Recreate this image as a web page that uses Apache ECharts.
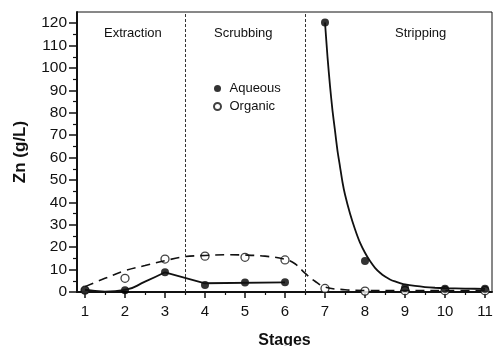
<!DOCTYPE html>
<html>
<head>
<meta charset="utf-8">
<script src="https://cdn.jsdelivr.net/npm/echarts@6/dist/echarts.min.js"></script>
<style>
  html, body { margin: 0; padding: 0; background: #fff; }
  #chart { width: 493px; height: 346px; }
</style>
</head>
<body>
<div id="chart"></div>
<script>
// Stage numbers and measured Zn concentrations (g/L)
const stages = [1, 2, 3, 4, 5, 6, 7, 8, 9, 10, 11];
const aqueous = [0.8, 0.8, 8.8, 3.1, 4.2, 4.3, 120.3, 13.8, 1.8, 1.5, 1.4];
const organic = [0.8, 6.1, 14.7, 16.0, 15.5, 14.3, 1.6, 0.4, 0.6, 0.6, 0.6];

// Trend curves drawn through the aqueous data: extraction, scrubbing, stripping
const aqTrendExtraction = [[1, 1.0], [1.5, 0.2], [2, 0.9], [2.5, 4.6], [3, 8.8]];
const aqTrendScrubbing = [[3, 8.8], [4, 3.9], [6, 4.3]];
const aqTrendStripping = [
  [7, 120.3], [7.0625, 105], [7.125, 92], [7.1875, 81], [7.25, 72],
  [7.3125, 63], [7.375, 56], [7.4375, 49], [7.5, 43.5], [7.625, 35],
  [7.75, 28], [7.875, 22], [8, 17.5], [8.125, 13.8], [8.25, 10.8],
  [8.375, 8.6], [8.5, 6.9], [8.625, 5.6], [8.75, 4.7], [8.875, 4.0],
  [9, 3.4], [9.25, 2.7], [9.5, 2.2], [9.75, 1.9], [10, 1.7],
  [10.5, 1.5], [11, 1.4]
];
// Trend curve through the organic data
const orgTrend = [
  [1, 2.4], [1.5, 6.1], [2, 9.5], [2.5, 11.8], [3, 14.0], [3.5, 15.8],
  [4, 16.3], [4.5, 16.6], [5, 16.5], [5.5, 16.0], [6, 14.6], [6.25, 12.6],
  [6.5, 8.4], [6.75, 4.8], [7, 2.2], [7.5, 1.0], [8, 0.7], [9, 0.7],
  [10, 0.7], [11, 0.7]
];

// Stage boundaries and section names
const boundaries = [3.5, 6.5];
const sections = ['Extraction', 'Scrubbing', 'Stripping'];

// Tick positions
const xMajor = stages;
const xMinor = [1.5, 2.5, 3.5, 4.5, 5.5, 6.5, 7.5, 8.5, 9.5, 10.5];
const yMajor = [0, 10, 20, 30, 40, 50, 60, 70, 80, 90, 100, 110, 120];
const yMinor = [5, 15, 25, 35, 45, 55, 65, 75, 85, 95, 105, 115];

const FONT = '"Liberation Sans", Arial, Helvetica, sans-serif';
const INK = '#111';

const chart = echarts.init(document.getElementById('chart'), null, { renderer: 'canvas' });

const xRange = { min: 0.8, max: 11.175 };
const yRange = { min: 0, max: 125 };

chart.setOption({
  animation: false,
  backgroundColor: '#fff',
  grid: {
    left: 77, right: 1, top: 12, bottom: 54,
    outerBoundsMode: 'none', containLabel: false,
    show: true, borderColor: INK, borderWidth: 1, backgroundColor: 'transparent'
  },
  legend: {
    left: 208, top: 77, orient: 'vertical',
    itemWidth: 14, itemHeight: 7, itemGap: 5,
    data: ['Aqueous', 'Organic'],
    textStyle: { fontFamily: FONT, fontSize: 13, color: INK },
    selectedMode: false
  },
  xAxis: [
    {
      type: 'value', position: 'bottom', ...xRange,
      name: 'Stages', nameLocation: 'middle', nameGap: 41,
      nameTextStyle: { fontFamily: FONT, fontSize: 16, fontWeight: 'bold', color: INK },
      axisLine: { show: true, lineStyle: { color: INK, width: 2 } },
      axisTick: { show: true, customValues: xMajor, length: 6, lineStyle: { color: INK, width: 1.5 } },
      axisLabel: { customValues: xMajor, fontFamily: FONT, fontSize: 15, color: INK, margin: 12 },
      splitLine: { show: false }
    },
    {
      type: 'value', position: 'bottom', ...xRange,
      axisLine: { show: false },
      axisTick: { show: true, customValues: xMinor, length: 3, lineStyle: { color: INK, width: 1.2 } },
      axisLabel: { show: false },
      splitLine: { show: false }
    }
  ],
  yAxis: [
    {
      type: 'value', position: 'left', ...yRange,
      name: 'Zn (g/L)', nameLocation: 'middle', nameGap: 48, nameRotate: 90,
      nameTextStyle: { fontFamily: FONT, fontSize: 17, fontWeight: 'bold', color: INK },
      axisLine: { show: true, lineStyle: { color: INK, width: 2 } },
      axisTick: { show: true, customValues: yMajor, length: 8, lineStyle: { color: INK, width: 1.5 } },
      axisLabel: { customValues: yMajor, fontFamily: FONT, fontSize: 15.5, color: INK, margin: 10 },
      splitLine: { show: false }
    },
    {
      type: 'value', position: 'left', ...yRange,
      axisLine: { show: false },
      axisTick: { show: true, customValues: yMinor, length: 4, lineStyle: { color: INK, width: 1.2 } },
      axisLabel: { show: false },
      splitLine: { show: false }
    }
  ],
  series: [
    {
      name: 'orgTrend', type: 'line', data: orgTrend, smooth: 0.4,
      symbol: 'none', silent: true,
      lineStyle: { color: INK, width: 1.6, type: [9, 6] },
      markLine: {
        silent: true, symbol: 'none', label: { show: false },
        lineStyle: { color: '#333', width: 1, type: [3, 2] },
        data: boundaries.map(b => ({ xAxis: b }))
      }
    },
    {
      name: 'aqTrend1', type: 'line', data: aqTrendExtraction, smooth: 0.5,
      symbol: 'none', silent: true, lineStyle: { color: INK, width: 1.8 }
    },
    {
      name: 'aqTrend2', type: 'line', data: aqTrendScrubbing,
      symbol: 'none', silent: true, lineStyle: { color: INK, width: 1.8 }
    },
    {
      name: 'aqTrend3', type: 'line', data: aqTrendStripping, smooth: 0.2,
      symbol: 'none', silent: true, lineStyle: { color: INK, width: 1.8 }
    },
    {
      name: 'Organic', type: 'scatter', symbol: 'circle', symbolSize: 8,
      data: stages.map((s, i) => [s, organic[i]]),
      itemStyle: { color: '#fff', borderColor: INK, borderWidth: 1.3 }
    },
    {
      name: 'Aqueous', type: 'scatter', symbol: 'circle', symbolSize: 8,
      data: stages.map((s, i) => [s, aqueous[i]]),
      itemStyle: { color: '#000', borderColor: '#000', borderWidth: 0 }
    }
  ],
  graphic: [
    { type: 'text', left: 104, top: 27, style: { text: sections[0], font: '13px ' + FONT, fill: INK } },
    { type: 'text', left: 214, top: 27, style: { text: sections[1], font: '13px ' + FONT, fill: INK } },
    { type: 'text', left: 395, top: 27, style: { text: sections[2], font: '13px ' + FONT, fill: INK } }
  ]
});
</script>
</body>
</html>
